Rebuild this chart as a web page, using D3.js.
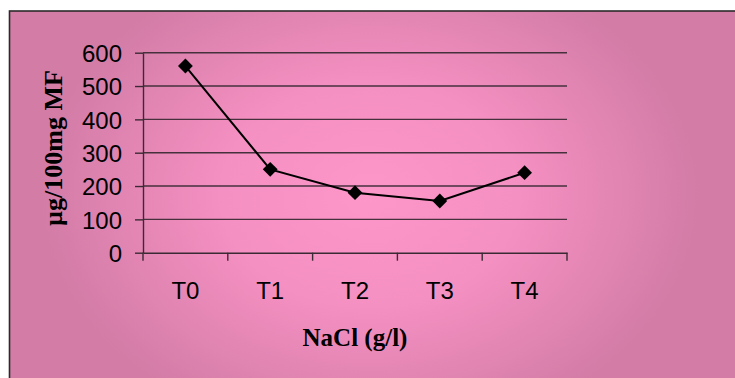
<!DOCTYPE html>
<html>
<head>
<meta charset="utf-8">
<script src="https://cdn.jsdelivr.net/npm/d3@7"></script>
<style>
  body { margin: 0; background: #fff; }
  svg { display: block; }
</style>
</head>
<body>
<div id="chart"></div>
<script>
// data
var categories = ["T0", "T1", "T2", "T3", "T4"];
var values = [560, 250, 180, 155, 240];
var yTicks = [0, 100, 200, 300, 400, 500, 600];

var svgWidth = 735;
var svgHeight = 378;

var margin = { top: 52.7, right: 168, bottom: 125.3, left: 143 };
var width = svgWidth - margin.left - margin.right;
var height = svgHeight - margin.top - margin.bottom;

var svg = d3.select("#chart")
  .append("svg")
  .attr("width", svgWidth)
  .attr("height", svgHeight);

var defs = svg.append("defs");
var grad = defs.append("radialGradient")
  .attr("id", "bg")
  .attr("gradientUnits", "userSpaceOnUse")
  .attr("cx", 370).attr("cy", 195)
  .attr("r", 330)
  .attr("gradientTransform", "translate(370,195) scale(1,0.75) translate(-370,-195)");
grad.append("stop").attr("offset", "0%").attr("stop-color", "#fd96c9");
grad.append("stop").attr("offset", "45%").attr("stop-color", "#f590c2");
grad.append("stop").attr("offset", "100%").attr("stop-color", "#d27ca6");

// chart area with border (top/left visible, rest runs off the edge)
svg.append("rect")
  .attr("x", 9.5).attr("y", 11)
  .attr("width", 740).attr("height", 380)
  .attr("fill", "url(#bg)")
  .attr("stroke", "#2a2a2a")
  .attr("stroke-width", 1.6);

var chartGroup = svg.append("g")
  .attr("transform", `translate(${margin.left}, ${margin.top})`);

var xScale = d3.scaleBand()
  .domain(categories)
  .range([0, width]);

var yScale = d3.scaleLinear()
  .domain([0, 600])
  .range([height, 0]);

// gridlines
chartGroup.selectAll(".grid")
  .data(yTicks.filter(d => d > 0))
  .enter()
  .append("line")
  .attr("x1", 0)
  .attr("x2", width)
  .attr("y1", d => yScale(d))
  .attr("y2", d => yScale(d))
  .attr("stroke", "#45303c")
  .attr("stroke-width", 1.4);

var leftAxis = d3.axisLeft(yScale)
  .tickValues(yTicks)
  .tickSize(8)
  .tickPadding(13)
  .tickSizeOuter(0);

var bottomAxis = d3.axisBottom(xScale)
  .tickSize(0)
  .tickPadding(29);

var yAxis = chartGroup.append("g").call(leftAxis);
var xAxis = chartGroup.append("g")
  .attr("transform", `translate(0, ${height})`)
  .call(bottomAxis);

// category boundary ticks
var bounds = categories.map(c => xScale(c)).concat([width]);
chartGroup.selectAll(".xtick")
  .data(bounds)
  .enter()
  .append("line")
  .attr("x1", d => d).attr("x2", d => d)
  .attr("y1", height).attr("y2", height + 8)
  .attr("stroke", "#3a2a33")
  .attr("stroke-width", 1.4);

[yAxis, xAxis].forEach(function(ax) {
  ax.selectAll("path").attr("stroke", "#3a2a33").attr("stroke-width", 1.4);
  ax.selectAll("line").attr("stroke", "#3a2a33").attr("stroke-width", 1.4);
  ax.selectAll("text")
    .attr("fill", "#000")
    .style("font-family", "Arial, 'Liberation Sans', sans-serif")
    .style("font-size", "24px");
});
yAxis.selectAll("text").attr("dy", "0.36em");

// line + markers
var line = d3.line()
  .x((d, i) => xScale(categories[i]) + xScale.bandwidth() / 2)
  .y(d => yScale(d));

chartGroup.append("path")
  .datum(values)
  .attr("d", line)
  .attr("fill", "none")
  .attr("stroke", "#000")
  .attr("stroke-width", 2);

chartGroup.selectAll(".marker")
  .data(values)
  .enter()
  .append("path")
  .attr("d", d3.symbol().type(d3.symbolDiamond2).size(140))
  .attr("transform", (d, i) => `translate(${xScale(categories[i]) + xScale.bandwidth() / 2}, ${yScale(d)})`)
  .attr("fill", "#000");

// axis titles
svg.append("text")
  .attr("transform", "translate(62, 148) rotate(-90)")
  .attr("text-anchor", "middle")
  .style("font-family", "'Liberation Serif', 'Times New Roman', serif")
  .style("font-weight", "bold")
  .style("font-size", "26px")
  .text("µg/100mg MF");

svg.append("text")
  .attr("x", margin.left + width / 2)
  .attr("y", 346)
  .attr("text-anchor", "middle")
  .style("font-family", "'Liberation Serif', 'Times New Roman', serif")
  .style("font-weight", "bold")
  .style("font-size", "25px")
  .text("NaCl (g/l)");
</script>
</body>
</html>
